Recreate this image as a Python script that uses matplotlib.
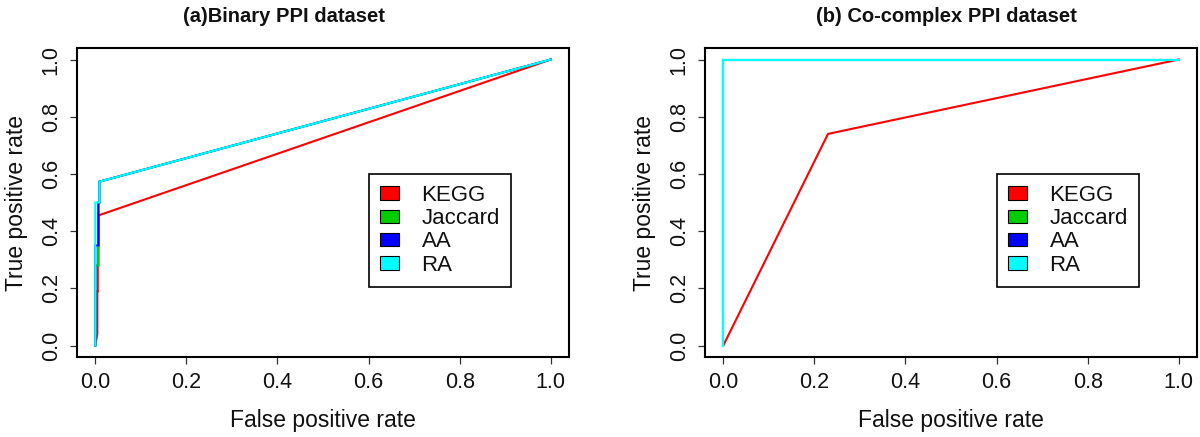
import matplotlib
matplotlib.use("Agg")
import matplotlib.pyplot as plt
from matplotlib.patches import Patch

plt.rcParams['font.family'] = ['Liberation Sans', 'DejaVu Sans']

methods = ["KEGG", "Jaccard", "AA", "RA"]
colors = ["#FF0000", "#00CD00", "#0000FF", "#00FFFF"]

# (a) Binary PPI dataset ROC curves
bin_fpr = {
    "KEGG":    [0.0, 0.0045, 0.0045, 0.0055, 0.0055, 0.007, 0.007, 1.0],
    "Jaccard": [0.0, 0.0, 0.0063, 0.0063, 0.009, 0.009, 1.0],
    "AA":      [0.0, 0.0, 0.0072, 0.0072, 0.009, 0.009, 1.0],
    "RA":      [0.0, 0.0, 0.009, 0.009, 1.0],
}
bin_tpr = {
    "KEGG":    [0.0, 0.04, 0.19, 0.19, 0.28, 0.28, 0.455, 1.0],
    "Jaccard": [0.0, 0.28, 0.28, 0.50, 0.50, 0.573, 1.0],
    "AA":      [0.0, 0.35, 0.35, 0.50, 0.50, 0.573, 1.0],
    "RA":      [0.0, 0.50, 0.50, 0.573, 1.0],
}

# (b) Co-complex PPI dataset ROC curves
co_fpr = {
    "KEGG":    [0.0, 0.23, 1.0],
    "Jaccard": [0.0, 0.0, 1.0],
    "AA":      [0.0, 0.0, 1.0],
    "RA":      [0.0, 0.0, 1.0],
}
co_tpr = {
    "KEGG":    [0.0, 0.74, 1.0],
    "Jaccard": [0.0, 1.0, 1.0],
    "AA":      [0.0, 1.0, 1.0],
    "RA":      [0.0, 1.0, 1.0],
}

titles = ["(a)Binary PPI dataset", "(b) Co-complex PPI dataset"]
title_x = [0.42, 0.49]
ticks = [0.0, 0.2, 0.4, 0.6, 0.8, 1.0]
tick_labels = ["0.0", "0.2", "0.4", "0.6", "0.8", "1.0"]

fig = plt.figure(figsize=(12, 4.37), dpi=100)
ax_pos = [[0.0642, 0.183, 0.41, 0.707], [0.5875, 0.183, 0.41, 0.707]]
datasets = [(bin_fpr, bin_tpr), (co_fpr, co_tpr)]

for pos, (fpr, tpr), title, tx in zip(ax_pos, datasets, titles, title_x):
    ax = fig.add_axes(pos)
    for m, c in zip(methods, colors):
        ax.plot(fpr[m], tpr[m], color=c, lw=1.5, solid_joinstyle='miter')
    ax.set_xlim(-0.04, 1.04)
    ax.set_ylim(-0.04, 1.04)
    ax.set_xticks(ticks)
    ax.set_xticklabels(tick_labels)
    ax.set_yticks(ticks)
    ax.set_yticklabels(tick_labels, rotation=90, va='center')
    ax.tick_params(axis='both', direction='out', length=5, width=0.9,
                   labelsize=15.5, color='#333333', labelcolor='#111111')
    ax.tick_params(axis='x', pad=6)
    ax.tick_params(axis='y', pad=6)
    for s in ax.spines.values():
        s.set_linewidth(1.5)
    ax.set_xlabel("False positive rate", fontsize=16.5, labelpad=11, color='#111111')
    ax.set_ylabel("True positive rate", fontsize=16.5, labelpad=9, color='#111111')
    ax.set_title(title, fontsize=14.5, fontweight='bold', pad=19, color='#111111', x=tx)
    handles = [Patch(facecolor=c, edgecolor='black', linewidth=0.8) for c in colors]
    leg = ax.legend(handles, methods, loc='center', bbox_to_anchor=(0.738, 0.41),
                    prop={'size': 16}, frameon=True, fancybox=False, framealpha=1,
                    edgecolor='black', handlelength=0.85, handleheight=0.55,
                    handletextpad=1.0, labelspacing=0.1, borderpad=0.5,
                    borderaxespad=0)
    leg.get_frame().set_linewidth(1.2)
    for t in leg.get_texts():
        t.set_color('#111111')

fig.savefig("out.png", dpi=100)
